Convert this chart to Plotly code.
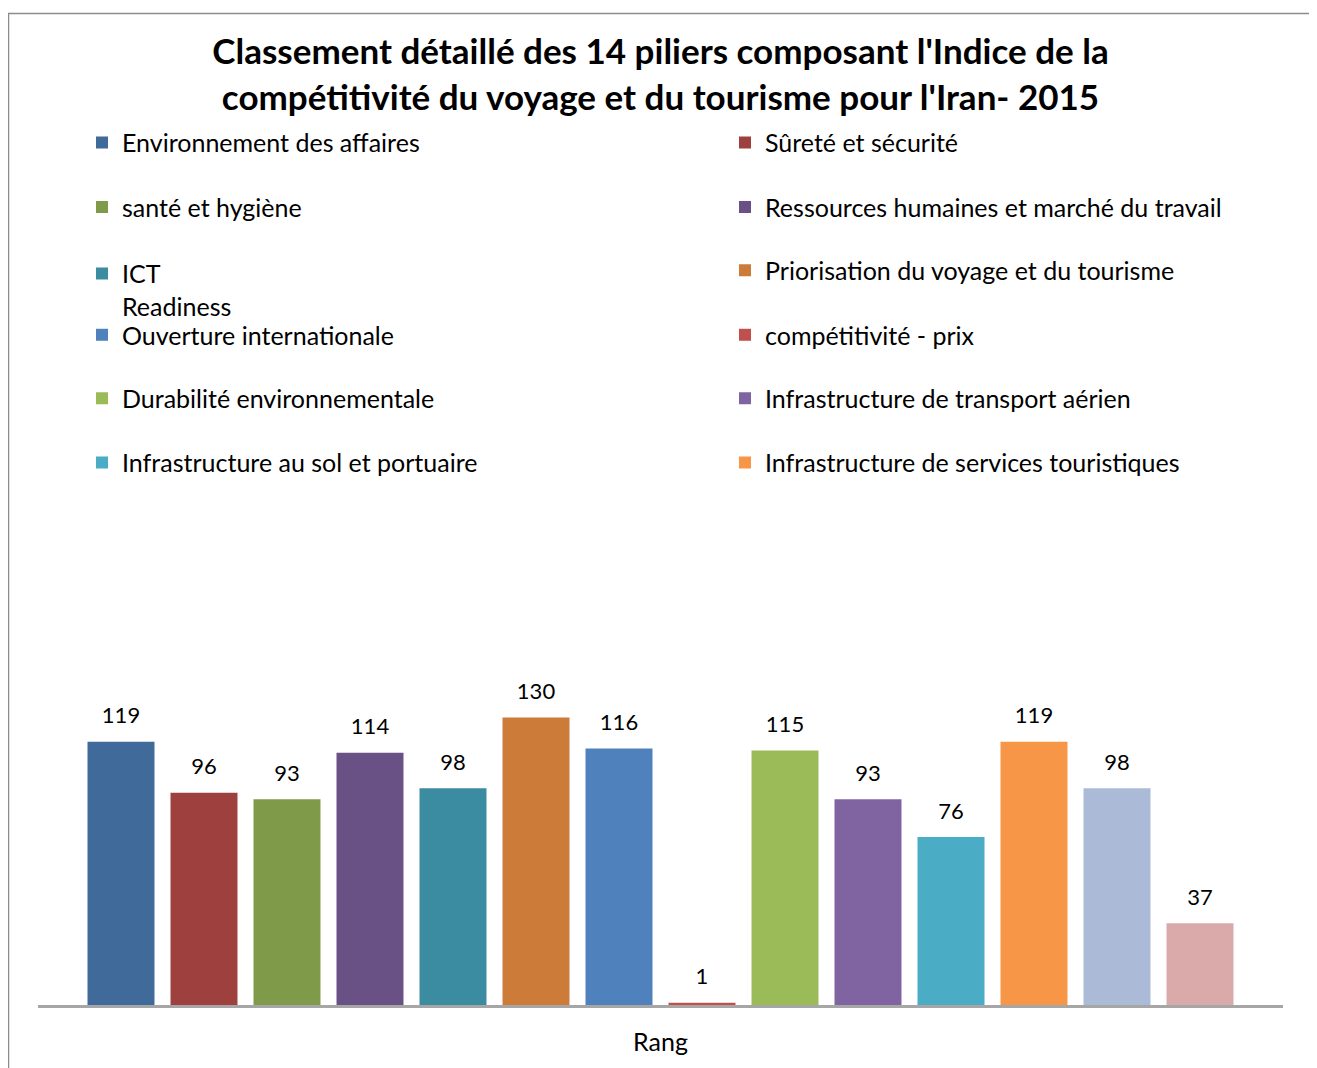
import plotly.graph_objects as go

# ---- data ----
piliers = [
    "Environnement des affaires",
    "Sûreté et sécurité",
    "santé et hygiène",
    "Ressources humaines et marché du travail",
    "ICT<br>Readiness",
    "Priorisation du voyage et du tourisme",
    "Ouverture internationale",
    "compétitivité - prix",
    "Durabilité environnementale",
    "Infrastructure de transport aérien",
    "Infrastructure au sol et portuaire",
    "Infrastructure de services touristiques",
    "Ressources naturelles",
    "Ressources culturelles et voyages d'affaires",
]
rangs = [119, 96, 93, 114, 98, 130, 116, 1, 115, 93, 76, 119, 98, 37]
couleurs = [
    "#406A9A", "#9E413E", "#7F9A48", "#695185", "#3B8BA1", "#CC7B38",
    "#4F81BD", "#C0504D", "#9BBB59", "#8064A2", "#4BACC6", "#F79646",
    "#AABAD7", "#D9AAA9",
]
axis_label = ["Rang"]
n_legend = 12  # last two series are cut from the legend

# ---- layout geometry (page pixels; the page body adds an 8px margin) ----
OFF = 8
W, H = 1317 - OFF, 1068 - OFF
L = 38 - OFF
R = W - (1283 - OFF)
base_py = 1009 - OFF
B = H - base_py
T = 560 - OFF
plot_h = H - T - B
plot_w = W - L - R


def py2paper(py):  # py in page pixels
    return (base_py - (py - OFF)) / plot_h


def px2paper(px):  # px in page pixels
    return ((px - OFF) - L) / plot_w


FONT = "Lato, 'Open Sans', sans-serif"

fig = go.Figure()
idx = list(range(len(rangs)))
for i, (name, v, c) in enumerate(zip(piliers, rangs, couleurs)):
    fig.add_trace(go.Bar(
        x=[idx[i]], y=[v], name=name, width=0.807,
        marker=dict(color=c, line=dict(width=0)),
        showlegend=i < n_legend,
        legend="legend" if i == 0 else f"legend{i + 1}",
        hoverinfo="y+name",
    ))

fig.add_trace(go.Scatter(
    x=idx, y=rangs, mode="markers+text", text=[str(v) for v in rangs],
    textposition="top center", marker=dict(size=19, opacity=0),
    textfont=dict(family=FONT, size=22, color="#000000"),
    showlegend=False, hoverinfo="skip", cliponaxis=False,
))

row_py = [139, 204, 268, 333, 397, 462]
col_px = [82, 725]
legends = {}
for i in range(n_legend):
    key = "legend" if i == 0 else f"legend{i + 1}"
    r, col = divmod(i, 2)
    legends[key] = dict(
        x=px2paper(col_px[col]), y=py2paper(row_py[r]),
        xanchor="left", yanchor="middle", orientation="v",
        font=dict(family=FONT, size=25, color="#000000"),
        bgcolor="rgba(0,0,0,0)", borderwidth=0, visible=True,
        valign="top", itemclick=False, itemdoubleclick=False,
    )
    if i == 4:
        legends[key]["yanchor"] = "top"
        legends[key]["y"] = py2paper(row_py[r] - 20)

fig.update_layout(
    width=W, height=H,
    margin=dict(l=L, r=R, t=T, b=B),
    paper_bgcolor="white", plot_bgcolor="white",
    barmode="overlay", showlegend=True,
    title=dict(
        text="<b>Classement détaillé des 14 piliers composant l'Indice de la<br>"
             "compétitivité du voyage et du tourisme pour l'Iran- 2015</b>",
        x=0.5, xanchor="center", xref="paper",
        y=1 - 56 / H, yanchor="top", yref="container",
        font=dict(family=FONT, size=35, color="#000000"),
    ),
    xaxis=dict(
        range=[-1, len(rangs)], tickvals=[(len(rangs) - 1) / 2], ticktext=axis_label,
        showgrid=False, zeroline=False, showline=True,
        linecolor="#A6A6A6", linewidth=2.5, ticks="",
        tickfont=dict(family=FONT, size=25, color="#000000"),
        ticklabelstandoff=13, fixedrange=True,
    ),
    yaxis=dict(range=[0, plot_h / 2.232], visible=False, fixedrange=True),
    shapes=[dict(
        type="rect", xref="paper", yref="paper",
        x0=px2paper(8.5), x1=px2paper(1313), y0=py2paper(1090), y1=py2paper(8.5),
        line=dict(color="#8C8C8C", width=1.5), fillcolor="rgba(0,0,0,0)",
        layer="above",
    )],
    **legends,
)

fig.write_html("out.html")
